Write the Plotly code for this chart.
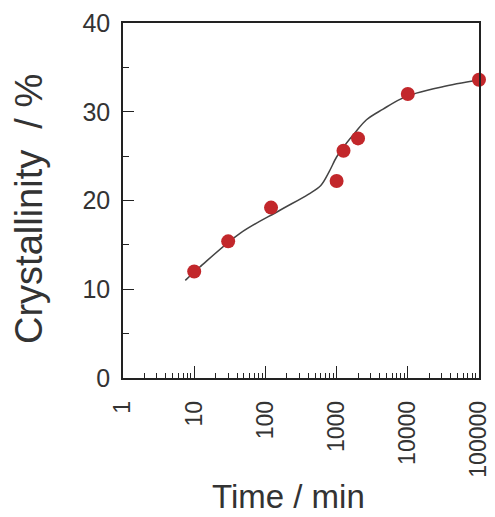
import plotly.graph_objects as go

# Measured data
time_min = [10, 30, 120, 1000, 1250, 2000, 10000, 100000]
crystallinity = [12.0, 15.4, 19.2, 22.2, 25.6, 27.0, 32.0, 33.6]

# Guide curve
fit_time = [7.5, 12, 44, 160, 400, 600, 780, 1000, 1300, 1800, 2630, 4500, 7760, 13200, 30000, 100000]
fit_cryst = [11.0, 12.5, 16.3, 18.9, 20.7, 21.7, 23.2, 24.9, 26.2, 27.6, 29.1, 30.3, 31.4, 32.1, 32.8, 33.6]

x_tickvals = [1, 10, 100, 1000, 10000, 100000]
x_ticktext = ["1", "10", "100", "1000", "10000", "100000"]
y_tickvals = [0, 10, 20, 30, 40]

FONT = "Liberation Sans, Arial, sans-serif"
TXT = "#333333"

fig = go.Figure()
fig.add_trace(go.Scatter(
    x=fit_time, y=fit_cryst, mode="lines",
    line=dict(color="#444444", width=1.5, shape="spline", smoothing=1.0),
    hoverinfo="skip", showlegend=False))
fig.add_trace(go.Scatter(
    x=time_min, y=crystallinity, mode="markers", cliponaxis=False,
    marker=dict(color="#c2272b", size=14, line=dict(width=0)),
    showlegend=False))

fig.update_layout(
    width=495, height=517,
    margin=dict(l=123, r=16, t=23, b=139),
    paper_bgcolor="white", plot_bgcolor="white",
    font=dict(family=FONT, color=TXT),
    xaxis=dict(
        type="log", range=[0, 5], automargin=False,
        showline=True, linecolor="#222222", linewidth=1.5, mirror=True,
        showgrid=False, zeroline=False,
        tickmode="array", tickvals=x_tickvals, ticktext=x_ticktext,
        ticks="inside", ticklen=12, tickwidth=1.2, tickcolor="#222222",
        tickangle=-90, tickfont=dict(size=23, color=TXT), ticklabelstandoff=12,
        minor=dict(ticks="inside", ticklen=5, tickwidth=1, tickcolor="#222222",
                   dtick="D1", showgrid=False),
    ),
    yaxis=dict(
        range=[0, 40], automargin=False,
        showline=True, linecolor="#222222", linewidth=1.5, mirror=True,
        showgrid=False, zeroline=False,
        tickmode="array", tickvals=y_tickvals,
        ticks="inside", ticklen=11, tickwidth=1.2, tickcolor="#222222",
        tickfont=dict(size=25, color=TXT), ticklabelstandoff=6,
        minor=dict(ticks="inside", ticklen=6, tickwidth=1, tickcolor="#222222",
                   dtick=5, showgrid=False),
    ),
    annotations=[
        dict(text="Time / min", xref="paper", yref="paper",
             x=(288 - 123) / 356, y=-(496 - 378) / 355,
             xanchor="center", yanchor="middle", showarrow=False,
             font=dict(size=33, color=TXT, family=FONT)),
        dict(text="Crystallinity\u00a0\u00a0/ %", xref="paper", yref="paper",
             x=-(123 - 29) / 356, y=(378 - 209) / 355,
             xanchor="center", yanchor="middle", showarrow=False, textangle=-90,
             font=dict(size=38, color=TXT, family=FONT)),
    ],
)

fig.write_html("out.html")
